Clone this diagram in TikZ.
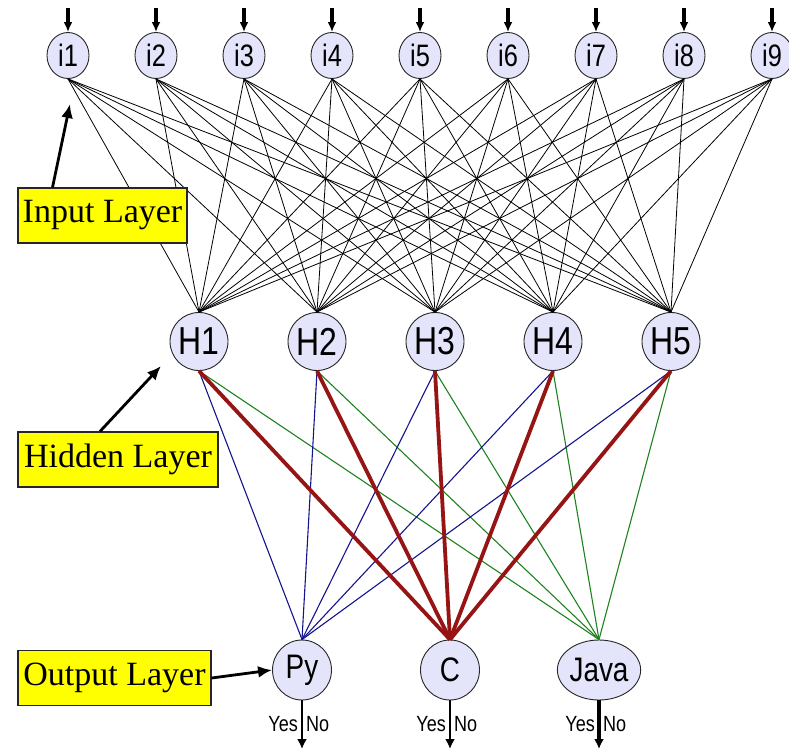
\documentclass[tikz,border=0pt]{standalone}
\usepackage{fontspec}
\setmainfont{Liberation Serif}
\newfontfamily\nodefont[FakeStretch=0.82]{Liberation Sans}
\usetikzlibrary{arrows.meta,shapes.geometric}
\definecolor{nodefill}{RGB}{228,228,250}
\definecolor{pyblue}{RGB}{20,20,140}
\definecolor{cred}{RGB}{150,20,20}
\definecolor{javagreen}{RGB}{30,130,30}
\definecolor{labelyellow}{RGB}{255,255,0}
\tikzset{
  neuron/.style={ellipse, draw=black!85, line width=0.9pt, fill=nodefill, inner sep=0pt},
  innode/.style={neuron, minimum width=42pt, minimum height=46pt, font=\nodefont\fontsize{31}{31}\selectfont},
  hidnode/.style={neuron, minimum width=58pt, minimum height=58pt, font=\nodefont\fontsize{39}{39}\selectfont},
  outnode/.style={neuron, minimum width=59pt, minimum height=60pt, font=\nodefont\fontsize{34}{34}\selectfont},
  layerbox/.style={draw=black!85, line width=1.2pt, fill=labelyellow, inner sep=0pt, minimum height=55pt, font=\fontsize{34}{34}\selectfont},
  weight/.style={line width=0.8pt, black},
  topyblue/.style={line width=1.1pt, pyblue},
  toc/.style={line width=3.8pt, cred},
  tojava/.style={line width=1.1pt, javagreen},
  feed/.style={line width=3.4pt, -{Latex[length=10pt,width=9pt]}},
  result/.style={line width=2.6pt, -{Latex[length=10pt,width=10pt]}},
  pointer/.style={line width=2.8pt, -{Latex[length=14pt,width=12pt]}},
  answer/.style={font=\nodefont\fontsize{22}{22}\selectfont, inner sep=0pt}
}
\begin{document}
\begin{tikzpicture}[x=1pt,y=-1pt]
\useasboundingbox (0,0) rectangle (789,750);
\clip (0,0) rectangle (789,750);

% input layer
\foreach \k in {1,...,9} {
  \node[innode] (i\k) at ({68+88*(\k-1)},55.5) {i\k};
  \coordinate (src\k) at ({68+88*(\k-1)},8);
  \draw[feed] (src\k) -- (i\k.north);
}

% hidden layer
\foreach \k in {1,...,5} {
  \node[hidnode] (H\k) at ({199+118*(\k-1)},341.5) {H\k};
}

% output layer
\node[outnode] (Py) at (302,670) {Py};
\node[outnode] (C) at (450,670) {C};
\node[outnode] (Java) at (599,670) {Java};

% input -> hidden weights
\foreach \a in {1,...,9} {
  \foreach \b in {1,...,5} {
    \draw[weight] (i\a.south) -- (H\b.north);
  }
}

% hidden -> output weights
\foreach \b in {1,...,5} {
  \draw[topyblue] (H\b.south) -- (Py.north);
  \draw[tojava] (H\b.south) -- (Java.north);
}
\foreach \b in {1,...,5} {
  \draw[toc] (H\b.south) -- (C.north);
}

% outputs with yes / no answers
\foreach \o in {Py,C} {
  \coordinate (\o end) at (\o.south |- 0,749);
  \draw[result] (\o.south) -- (\o end);
}
\coordinate (Javaend) at (Java.south |- 0,749);
\draw[result, line width=4.6pt] (Java.south) -- (Javaend);
\foreach \o in {Py,C,Java} {
  \node[answer, anchor=east] (\o yes) at ([xshift=-4pt]\o.south |- 0,724) {Yes};
  \node[answer, anchor=west] (\o no) at ([xshift=4pt]\o.south |- 0,724) {No};
}

% layer labels
\node[layerbox, minimum width=169pt] (inbox) at (102.5,215.5) {Input Layer};
\node[layerbox, minimum width=200pt] (hidbox) at (118,459.5) {Hidden Layer};
\node[layerbox, minimum width=193pt] (outbox) at (114.5,678) {Output Layer};

\coordinate (inptr) at (70,104);
\coordinate (hidptr) at (161,366);
\draw[pointer] ([xshift=-50pt]inbox.north) -- (inptr);
\draw[pointer] ([xshift=-18pt]hidbox.north) -- (hidptr);
\draw[pointer] (outbox.east) -- (Py.west);
\end{tikzpicture}
\end{document}
